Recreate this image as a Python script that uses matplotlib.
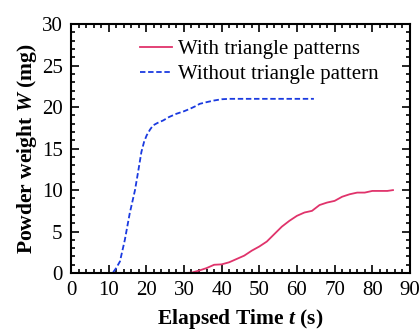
import numpy as np
import matplotlib.pyplot as plt
from matplotlib.ticker import MultipleLocator

plt.rcParams['font.family'] = ['Liberation Serif', 'DejaVu Serif']
plt.rcParams['mathtext.fontset'] = 'custom'
plt.rcParams['mathtext.it'] = 'Liberation Serif:italic:bold'
plt.rcParams['mathtext.rm'] = 'Liberation Serif:bold'

# Without triangle pattern (blue dashed)
t_without = [11.2, 12.0, 13.0, 14.3, 15.6, 17.0, 17.9, 18.7, 19.4, 20.1, 21.0, 21.8,
             23.0, 24.5, 26.0, 28.0, 30.0, 31.6, 33.0, 34.2, 36.0, 38.0, 40.0, 42.0,
             46.0, 50.0, 55.0, 60.0, 64.5]
w_without = [0.1, 0.6, 1.4, 4.0, 7.2, 10.0, 12.4, 14.6, 15.8, 16.6, 17.3, 17.8,
             18.1, 18.4, 18.8, 19.2, 19.5, 19.8, 20.1, 20.4, 20.6, 20.8, 20.95, 21.0,
             21.0, 21.0, 21.0, 21.0, 21.0]

# With triangle patterns (red solid)
t_with = [30, 32, 34, 36, 38, 40, 42, 44, 46, 48, 50, 52, 54, 56, 58, 60, 62, 64,
          66, 68, 70, 72, 74, 76, 78, 80, 82, 84, 85.5]
w_with = [0.0, 0.05, 0.3, 0.6, 1.0, 1.05, 1.3, 1.7, 2.1, 2.7, 3.2, 3.8, 4.7, 5.6,
          6.3, 6.9, 7.3, 7.5, 8.2, 8.5, 8.7, 9.2, 9.5, 9.7, 9.7, 9.9, 9.9, 9.9, 10.0]

fig = plt.figure(figsize=(4.2, 3.31), dpi=100)
ax = fig.add_axes([0.169, 0.175, 0.807, 0.752])

ax.plot(t_with, w_with, color='#e0336b', lw=1.3, label='With triangle patterns')
ax.plot(t_without, w_without, color='#1a3ae0', lw=1.3, ls=(0, (3, 1.5)),
        label='Without triangle pattern')

ax.set_xlim(0, 90)
ax.set_ylim(0, 30)
ax.xaxis.set_major_locator(MultipleLocator(10))
ax.xaxis.set_minor_locator(MultipleLocator(2))
ax.yaxis.set_major_locator(MultipleLocator(5))
ax.yaxis.set_minor_locator(MultipleLocator(1))
ax.tick_params(which='both', direction='in', top=True, right=True, labelsize=15,
               width=1.2)
ax.tick_params(which='major', length=6, pad=6)
ax.tick_params(which='minor', length=3)
for s in ax.spines.values():
    s.set_linewidth(1.5)

ax.set_xlabel('Elapsed Time $t$ (s)', fontsize=15.5, fontweight='bold', labelpad=5)
ax.set_ylabel('Powder weight $W$ (mg)', fontsize=15.5, fontweight='bold', labelpad=2)

ax.legend(loc='upper left', bbox_to_anchor=(0.204, 0.937), frameon=False, fontsize=15,
          handlelength=1.55, handletextpad=0.25, labelspacing=0.25, borderpad=0,
          borderaxespad=0)

fig.savefig('out.png', dpi=100)
